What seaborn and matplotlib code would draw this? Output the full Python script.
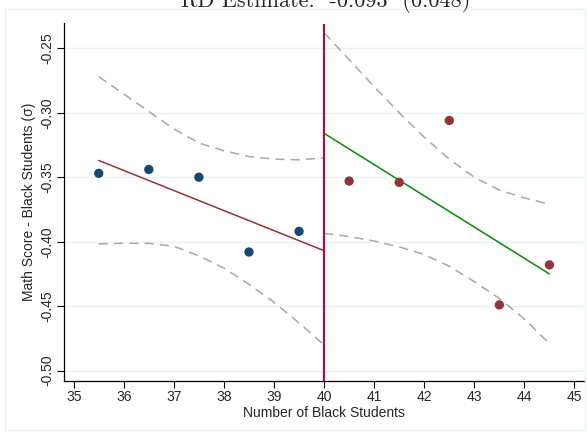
import numpy as np
import pandas as pd
import matplotlib
matplotlib.use("Agg")
import matplotlib.pyplot as plt
import seaborn as sns
from matplotlib.patches import Rectangle

# ---- data ----
left_x = [35.5, 36.5, 37.5, 38.5, 39.5]
left_y = [-0.347, -0.344, -0.350, -0.408, -0.392]
right_x = [40.5, 41.5, 42.5, 43.5, 44.5]
right_y = [-0.353, -0.354, -0.306, -0.449, -0.418]

left_fit_x = [35.5, 40.0]
left_fit_y = [-0.337, -0.407]
right_fit_x = [40.0, 44.5]
right_fit_y = [-0.316, -0.425]

band_left_x = [35.5, 36.0, 36.5, 37.0, 37.5, 38.0, 38.5, 39.0, 39.5, 40.0]
band_left_hi = [-0.272, -0.2855, -0.299, -0.3125, -0.3235, -0.3295, -0.334, -0.336, -0.3365, -0.335]
band_left_lo = [-0.4017, -0.4012, -0.4013, -0.4035, -0.411, -0.4205, -0.433, -0.447, -0.463, -0.480]
band_right_x = [40.0, 40.5, 41.0, 41.5, 42.0, 42.5, 43.0, 43.5, 44.0, 44.5]
band_right_hi = [-0.238, -0.2588, -0.2798, -0.300, -0.319, -0.336, -0.350, -0.360, -0.366, -0.371]
band_right_lo = [-0.3935, -0.396, -0.3995, -0.404, -0.410, -0.419, -0.431, -0.444, -0.460, -0.479]

cutoff = 40
x_ticks = list(range(35, 46))
y_ticks = [-0.50, -0.45, -0.40, -0.35, -0.30, -0.25]
y_tick_labels = ["-0.50", "-0.45", "-0.40", "-0.35", "-0.30", "-0.25"]
title = "RD Estimate:  -0.093  (0.048)"
xlabel = "Number of Black Students"
ylabel = "Math Score - Black Students (σ)"

# ---- styling ----
sns.set_theme(style="white")
plt.rcParams["font.family"] = ["Liberation Sans", "DejaVu Sans"]
plt.rcParams["axes.unicode_minus"] = False

navy = "#1a476f"
maroon = "#90353b"
green = "#0b8a0b"
cranberry = "#c10534"
grid_c = "#eaf2f3"
band_c = "#a8a8a8"

fig = plt.figure(figsize=(5.87, 4.32), dpi=100)
ax = fig.add_axes([64 / 587, 1 - 380.7 / 432, (584 - 64) / 587, (380.7 - 23.5) / 432])

# outer frame
fig.patches.append(Rectangle((5 / 587, 1 - 430 / 432), 580 / 587, 421 / 432,
                             transform=fig.transFigure, fill=False,
                             edgecolor=grid_c, lw=1.0))

for yt in y_ticks:
    ax.axhline(yt, color=grid_c, lw=1.0, zorder=0)

dash = (6, 4)
for bx, bv in [(band_left_x, band_left_hi), (band_left_x, band_left_lo),
               (band_right_x, band_right_hi), (band_right_x, band_right_lo)]:
    df = pd.DataFrame({"x": bx, "y": bv})
    sns.lineplot(data=df, x="x", y="y", ax=ax, color=band_c, lw=1.1,
                 dashes=False, linestyle=(0, dash), zorder=2)

sns.lineplot(x=left_fit_x, y=left_fit_y, ax=ax, color=maroon, lw=1.1, zorder=3)
sns.lineplot(x=right_fit_x, y=right_fit_y, ax=ax, color=green, lw=1.1, zorder=3)

ax.axvline(cutoff, color=cranberry, lw=1.5, zorder=4)

sns.scatterplot(x=left_x, y=left_y, ax=ax, color=navy, s=45, edgecolor="none", zorder=5)
sns.scatterplot(x=right_x, y=right_y, ax=ax, color=maroon, s=45, edgecolor="none", zorder=5)

ax.set_xlim(34.806, 45.19)
ax.set_ylim(-0.5078, -0.2308)
ax.set_xticks(x_ticks)
ax.set_xticklabels([str(t) for t in x_ticks], fontsize=10)
ax.set_yticks(y_ticks)
ax.set_yticklabels(y_tick_labels, fontsize=10, rotation=90, va="center")
ax.tick_params(axis="both", which="both", direction="out", length=5, width=0.8,
               color="black", bottom=True, left=True, pad=2)
for s in ["top", "right"]:
    ax.spines[s].set_visible(False)
for s in ["left", "bottom"]:
    ax.spines[s].set_color("black")
    ax.spines[s].set_linewidth(0.9)

ax.set_xlabel(xlabel, fontsize=10, labelpad=1)
ax.set_ylabel(ylabel, fontsize=10, labelpad=3)

fig.text(326 / 587, 1 - 7 / 432, title, ha="center", va="baseline", fontsize=16,
         family=["cmr10", "DejaVu Serif"])

fig.savefig("out.png", dpi=100)
